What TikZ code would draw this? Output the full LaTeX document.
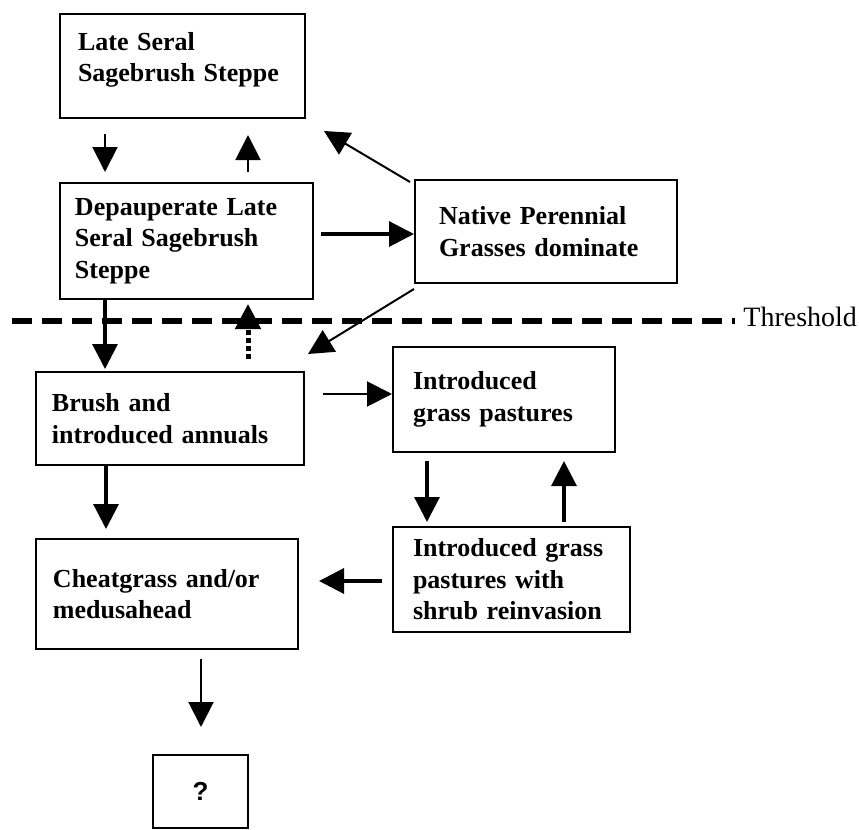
\documentclass[tikz,border=0pt]{standalone}
\usepackage{fontspec}
\setmainfont{Liberation Serif}
\newfontfamily\qfont{Liberation Sans}
\usetikzlibrary{arrows.meta,calc}
\begin{document}
\begin{tikzpicture}[x=0.5pt,y=-0.5pt,
  stbox/.style={draw, line width=1pt, inner sep=0pt, align=left,
    font=\bfseries\fontsize{13pt}{15.75pt}\selectfont},
  qbox/.style={draw, line width=1pt, inner sep=0pt,
    font=\qfont\bfseries\fontsize{13pt}{15pt}\selectfont},
  arrtip/.style={-{Triangle[length=12.5pt,width=12.5pt]}},
  thinarr/.style={arrtip, line width=1pt},
  thickarr/.style={arrtip, line width=1.6pt},
  dotarr/.style={arrtip, line width=2.5pt, dash pattern=on 2.5pt off 1.5pt},
  thresh/.style={line width=3pt, dash pattern=on 10pt off 5pt}]
\useasboundingbox (0,0) rectangle (859,830);

% boxes
\node[stbox, minimum width=122.5pt, minimum height=52pt, text width=104.5pt] (A) at (182.5,66) {Late Seral\\Sagebrush Steppe\rule[-8.8pt]{0pt}{8.8pt}};
\node[stbox, minimum width=126.5pt, minimum height=58pt, text width=111.5pt] (B) at (186.5,241) {Depauperate Late\\Seral Sagebrush\\Steppe};
\node[stbox, minimum width=131pt, minimum height=51.5pt, text width=107pt] (N) at (546,231.5) {Native Perennial\\Grasses dominate};
\node[stbox, minimum width=134pt, minimum height=46.5pt, text width=118pt] (C) at (170,418.5) {Brush and\\introduced annuals};
\node[stbox, minimum width=111pt, minimum height=52.5pt, text width=91pt] (I) at (504,399.5) {Introduced\\grass pastures};
\node[stbox, minimum width=131pt, minimum height=55pt, text width=114pt] (D) at (167,594) {Cheatgrass and/or\\medusahead};
\node[stbox, minimum width=118.5pt, minimum height=52.5pt, text width=98.5pt] (J) at (511.5,579.5) {Introduced grass\\pastures with\\shrub reinvasion};
\node[qbox, minimum width=47.5pt, minimum height=36.5pt] (Q) at (200.5,791.5) {?};

% threshold
\node[anchor=base west, inner sep=0pt, font=\fontsize{14pt}{16pt}\selectfont] (T) at (743,326) {Threshold};
\coordinate (thL) at (12,321);
\draw[thresh, shorten >=4pt] (thL) -- (thL -| T.west);

% connectors
\draw[thinarr, shorten <=7.5pt, shorten >=5pt] ($(A.south west)+(46,0)$) -- ($(B.north west)+(46,0)$);
\draw[thinarr, shorten <=5pt, shorten >=8pt] ($(B.north west)+(189,0)$) -- ($(A.south west)+(189,0)$);
\draw[thinarr] ($(N.north west)+(-4,3)$) -- ($(A.south east)+(18,12)$);
\draw[thickarr] ($(B.north east)+(7,52)$) -- ($(N.north west)+(0,55)$);
\draw[thinarr] ($(N.south west)+(0,5)$) -- ($(C.north east)+(3,-17)$);
\draw[thickarr, shorten >=1pt] ($(B.south west)+(46,0)$) -- ($(C.north west)+(70,0)$);
\draw[dotarr, shorten <=6pt, shorten >=2pt] ($(C.north west)+(213,0)$) -- ($(B.south west)+(189,0)$);
\draw[thinarr] ($(C.north east)+(18,23)$) -- ($(I.north west)+(0,48)$);
\draw[thickarr, shorten >=4.5pt] ($(C.south west)+(71,0)$) -- ($(D.north west)+(71,0)$);
\draw[thickarr] ($(J.north west)+(-10,55)$) -- ($(D.north east)+(20,43)$);
\draw[thinarr, shorten <=4.5pt, shorten >=13.5pt] ($(D.south west)+(166,0)$) -- ($(Q.north west)+(49,0)$);
\draw[thickarr, shorten <=4pt, shorten >=2pt] ($(I.south west)+(35,0)$) -- ($(J.north west)+(35,0)$);
\draw[thickarr, shorten <=2pt, shorten >=4pt] ($(J.north west)+(172,0)$) -- ($(I.south west)+(172,0)$);
\end{tikzpicture}
\end{document}
